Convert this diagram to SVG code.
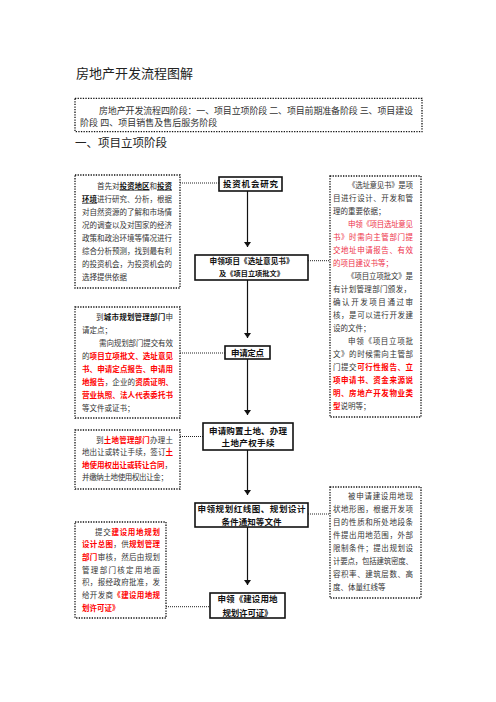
<svg xmlns="http://www.w3.org/2000/svg" width="496" height="702" viewBox="0 0 496 702">
<defs>
<style>
.t{font-family:"Liberation Serif","Noto Sans CJK SC",serif;font-size:7.5px;fill:#333}
.r{fill:#ff0000;font-weight:bold}
.rl{fill:#ee3048}
.k{fill:#111;font-weight:bold}
.u{text-decoration:underline}
.c{font-family:"Liberation Sans","Noto Sans CJK SC",sans-serif;font-size:8.5px;font-weight:bold;fill:#111}
.dbox{fill:#fff;stroke:#111;stroke-width:1.3;stroke-dasharray:1.3 1.3}
.nbox{fill:#fff;stroke:#111;stroke-width:1.6}
.dl{stroke:#222;stroke-width:1;stroke-dasharray:1 1;fill:none}
.al{stroke:#111;stroke-width:1.2;fill:none}
</style>
<marker id="ah" viewBox="0 0 10 10" refX="10" refY="5" markerWidth="5" markerHeight="7" markerUnits="userSpaceOnUse" orient="auto" preserveAspectRatio="none">
<path d="M0,0 L10,5 L0,10 z" fill="#111"/>
</marker>
</defs>
<rect width="496" height="702" fill="#fff"/>
<text x="76" y="77.5" font-family="Liberation Sans,'Noto Sans CJK SC',sans-serif" font-size="13" fill="#222">房地产开发流程图解</text>
<g id="intro">
<rect x="75" y="98.3" width="347" height="33.4" class="dbox"/>
<text class="t" style="font-size:9px" x="99" y="113.5" textLength="314" lengthAdjust="spacing">房地产开发流程四阶段：一、项目立项阶段 二、项目前期准备阶段 三、项目建设</text>
<text class="t" style="font-size:9px" x="80" y="125.5">阶段 四、项目销售及售后服务阶段</text>
</g>
<text x="75" y="146.5" font-family="Liberation Sans,'Noto Sans CJK SC',sans-serif" font-size="11.5" fill="#222">一、项目立项阶段</text>

<g id="connectors">
<line class="dl" x1="180" y1="183" x2="219" y2="183"/>
<line class="dl" x1="308" y1="260.7" x2="330" y2="260.7"/>
<line class="dl" x1="180" y1="353" x2="225" y2="353"/>
<line class="dl" x1="180" y1="436.5" x2="203" y2="436.5"/>
<line class="dl" x1="308" y1="514" x2="330" y2="514"/>
<line class="dl" x1="166" y1="606.7" x2="210" y2="606.7"/>
<line class="al" x1="247.5" y1="191" x2="247.5" y2="247" marker-end="url(#ah)"/>
<line class="al" x1="247.5" y1="280" x2="247.5" y2="338" marker-end="url(#ah)"/>
<line class="al" x1="247.5" y1="359" x2="247.5" y2="415" marker-end="url(#ah)"/>
<line class="al" x1="247.5" y1="450" x2="247.5" y2="495" marker-end="url(#ah)"/>
<line class="al" x1="247.5" y1="527" x2="247.5" y2="585" marker-end="url(#ah)"/>
</g>

<g id="n1">
<rect class="nbox" x="219" y="177" width="63" height="14"/>
<text class="c" x="223" y="187" textLength="55" lengthAdjust="spacing">投资机会研究</text>
</g>
<g id="n2">
<rect class="nbox" x="195" y="255" width="113" height="25"/>
<text class="c" style="font-size:7.6px" x="209.5" y="263.5" textLength="84" lengthAdjust="spacing">申领项目《选址意见书》</text>
<text class="c" style="font-size:7.2px" x="219" y="276" textLength="65" lengthAdjust="spacing">及《项目立项批文》</text>
</g>
<g id="n3">
<rect class="nbox" x="225" y="346" width="45" height="13"/>
<text class="c" x="231" y="355.5" textLength="33" lengthAdjust="spacing">申请定点</text>
</g>
<g id="n4">
<rect class="nbox" x="203" y="423" width="90" height="27"/>
<text class="c" x="209" y="434" textLength="78" lengthAdjust="spacing">申请购置土地、办理</text>
<text class="c" x="221.5" y="446" textLength="53" lengthAdjust="spacing">土地产权手续</text>
</g>
<g id="n5">
<rect class="nbox" x="195" y="503" width="113" height="24"/>
<text class="c" x="197.5" y="512" textLength="108" lengthAdjust="spacing">申领规划红线图、规划设计</text>
<text class="c" x="221.5" y="524.7" textLength="60" lengthAdjust="spacing">条件通知等文件</text>
</g>
<g id="n6">
<rect class="nbox" x="210" y="593" width="75" height="25"/>
<text class="c" x="217.5" y="602" textLength="60" lengthAdjust="spacing">申领《建设用地</text>
<text class="c" x="222.5" y="615.5" textLength="50" lengthAdjust="spacing">规划许可证》</text>
</g>

<g id="note1">
<rect class="dbox" x="75" y="175" width="105" height="113"/>
<text class="t" x="97" y="188.8" textLength="75" lengthAdjust="spacing">首先对<tspan class="k u">投资地区</tspan>和<tspan class="k u">投资</tspan></text>
<text class="t" x="82" y="201.8" textLength="90" lengthAdjust="spacing"><tspan class="k u">环境</tspan>进行研究、分析，根据</text>
<text class="t" x="82" y="214.8" textLength="90" lengthAdjust="spacing">对自然资源的了解和市场情</text>
<text class="t" x="82" y="227.8" textLength="90" lengthAdjust="spacing">况的调查以及对国家的经济</text>
<text class="t" x="82" y="240.8" textLength="90" lengthAdjust="spacing">政策和政治环境等情况进行</text>
<text class="t" x="82" y="253.8" textLength="90" lengthAdjust="spacing">综合分析预测，找到最有利</text>
<text class="t" x="82" y="266.8" textLength="90" lengthAdjust="spacing">的投资机会，为投资机会的</text>
<text class="t" x="82" y="279.8">选择提供依据</text>
</g>

<g id="note2">
<rect class="dbox" x="330" y="176" width="91" height="241"/>
<text class="t" x="348" y="187.8" textLength="65" lengthAdjust="spacing">《选址意见书》是项</text>
<text class="t" x="333" y="200.8" textLength="80" lengthAdjust="spacing">目进行设计、开发和管</text>
<text class="t" x="333" y="213.8">理的重要依据；</text>
<text class="t rl" x="348" y="226.8" textLength="65" lengthAdjust="spacing">申领《项目选址意见</text>
<text class="t rl" x="333" y="239.8" textLength="80" lengthAdjust="spacing">书》时需向主管部门提</text>
<text class="t rl" x="333" y="252.8" textLength="80" lengthAdjust="spacing">交地址申请报告、有效</text>
<text class="t rl" x="333" y="265.8">的项目建议书等；</text>
<text class="t" x="347" y="278.8" textLength="66" lengthAdjust="spacing">《项目立项批文》是</text>
<text class="t" x="333" y="291.8" textLength="78" lengthAdjust="spacing">有计划管理部门颁发，</text>
<text class="t" x="333" y="304.8" textLength="80" lengthAdjust="spacing">确认开发项目通过审</text>
<text class="t" x="333" y="317.8" textLength="80" lengthAdjust="spacing">核，是可以进行开发建</text>
<text class="t" x="333" y="330.8">设的文件；</text>
<text class="t" x="348" y="343.8" textLength="65" lengthAdjust="spacing">申领《项目立项批</text>
<text class="t" x="333" y="356.8" textLength="80" lengthAdjust="spacing">文》的时候需向主管部</text>
<text class="t" x="333" y="369.8" textLength="80" lengthAdjust="spacing">门提交<tspan class="r">可行性报告、立</tspan></text>
<text class="t r" x="333" y="382.8" textLength="80" lengthAdjust="spacing">项申请书、资金来源说</text>
<text class="t r" x="333" y="395.8" textLength="80" lengthAdjust="spacing">明、房地产开发物业类</text>
<text class="t" x="333" y="408.8"><tspan class="r">型</tspan>说明等；</text>
</g>

<g id="note3">
<rect class="dbox" x="75" y="307" width="105" height="111"/>
<text class="t" x="96" y="319.8" textLength="77" lengthAdjust="spacing">到<tspan class="k">城市规划管理部门</tspan>申</text>
<text class="t" x="82" y="332.8">请定点；</text>
<text class="t" x="99" y="345.8" textLength="74" lengthAdjust="spacing">需向规划部门提交有效</text>
<text class="t" x="82" y="358.8" textLength="91" lengthAdjust="spacing">的<tspan class="r">项目立项批文、选址意见</tspan></text>
<text class="t r" x="82" y="371.8" textLength="91" lengthAdjust="spacing">书、申请定点报告、申请用</text>
<text class="t" x="82" y="384.8" textLength="91" lengthAdjust="spacing"><tspan class="r">地报告</tspan>，企业的<tspan class="r">资质证明、</tspan></text>
<text class="t r" x="82" y="397.8" textLength="91" lengthAdjust="spacing">营业执照、法人代表委托书</text>
<text class="t" x="82" y="410.8">等文件或证书；</text>
</g>

<g id="note4">
<rect class="dbox" x="75" y="430" width="105" height="59"/>
<text class="t" x="96" y="442.8" textLength="77" lengthAdjust="spacing">到<tspan class="r">土地管理部门</tspan>办理土</text>
<text class="t" x="82" y="455.3" textLength="91" lengthAdjust="spacing">地出让或转让手续，签订<tspan class="r">土</tspan></text>
<text class="t" x="82" y="467.8" textLength="90" lengthAdjust="spacing"><tspan class="r">地使用权出让或转让合同</tspan>，</text>
<text class="t" x="82" y="480.3" textLength="86" lengthAdjust="spacing">并缴纳土地使用权出让金；</text>
</g>

<g id="note5">
<rect class="dbox" x="330" y="487" width="91" height="111"/>
<text class="t" x="348" y="498.8" textLength="65" lengthAdjust="spacing">被申请建设用地现</text>
<text class="t" x="333" y="511.8" textLength="80" lengthAdjust="spacing">状地形图，根据开发项</text>
<text class="t" x="333" y="524.8" textLength="80" lengthAdjust="spacing">目的性质和所处地段条</text>
<text class="t" x="333" y="537.8" textLength="80" lengthAdjust="spacing">件提出用地范围，外部</text>
<text class="t" x="333" y="550.8" textLength="80" lengthAdjust="spacing">限制条件；提出规划设</text>
<text class="t" x="333" y="563.8" textLength="80" lengthAdjust="spacing">计要点，包括建筑密度、</text>
<text class="t" x="333" y="576.8" textLength="80" lengthAdjust="spacing">容积率、建筑层数、高</text>
<text class="t" x="333" y="589.8">度、体量红线等</text>
</g>

<g id="note6">
<rect class="dbox" x="75" y="522" width="91" height="96"/>
<text class="t" x="95" y="534.5" textLength="65" lengthAdjust="spacing">提交<tspan class="r">建设用地规划</tspan></text>
<text class="t" x="82" y="547.2" textLength="78" lengthAdjust="spacing"><tspan class="r">设计总图</tspan>，供<tspan class="r">规划管理</tspan></text>
<text class="t" x="82" y="559.8" textLength="78" lengthAdjust="spacing"><tspan class="r">部门</tspan>审核，然后由规划</text>
<text class="t" x="82" y="572.5" textLength="78" lengthAdjust="spacing">管理部门核定用地面</text>
<text class="t" x="82" y="585.2" textLength="78" lengthAdjust="spacing">积，报经政府批准，发</text>
<text class="t" x="82" y="597.8" textLength="78" lengthAdjust="spacing">给开发商<tspan class="r">《建设用地规</tspan></text>
<text class="t r" x="82" y="610.5">划许可证》</text>
</g>
</svg>
